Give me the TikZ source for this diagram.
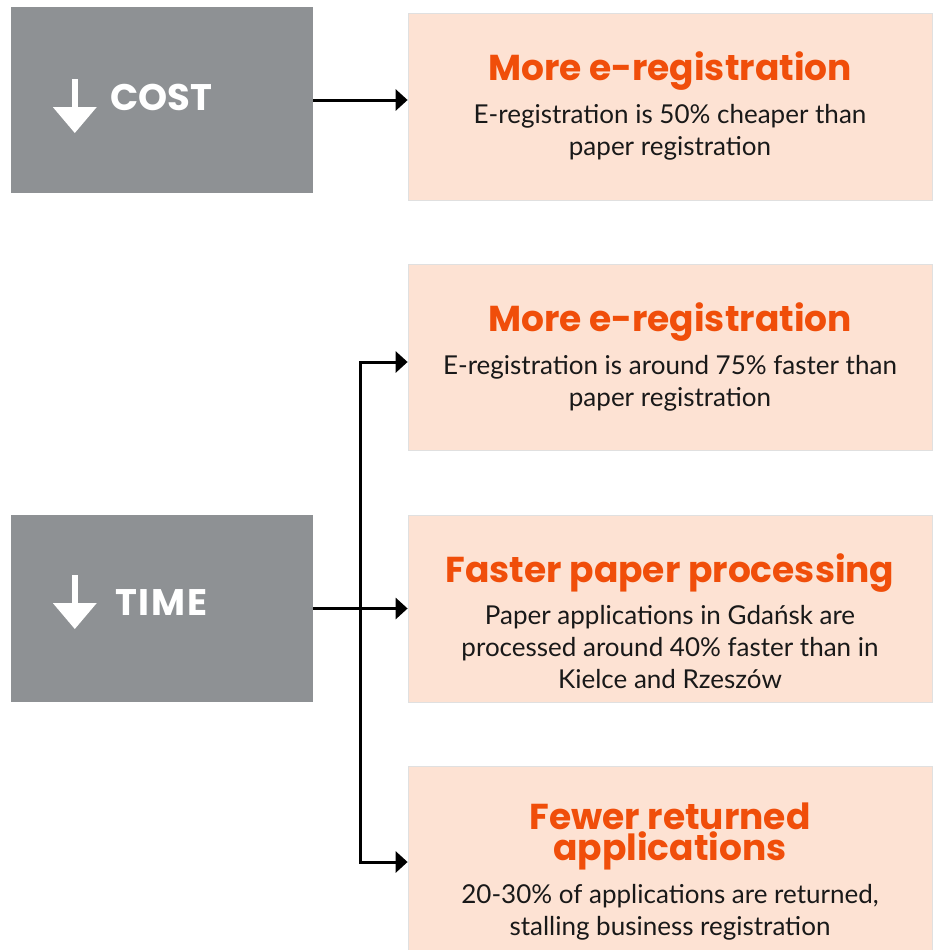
\documentclass[tikz,border=0pt]{standalone}
\usepackage{fontspec}
\setmainfont{Lato}
\newfontfamily\headfont{Poppins}
\usetikzlibrary{positioning,calc,arrows.meta}

\definecolor{slate}{HTML}{8E9194}
\definecolor{peach}{HTML}{FDE2D3}
\definecolor{rust}{HTML}{F04E0A}

\begin{document}
\begin{tikzpicture}[x=1pt,y=1pt,
	factor/.style={fill=slate,minimum width=302pt,minimum height=186pt,inner sep=0},
	effect/.style={fill=peach,draw=black!12,line width=.8pt,minimum width=524pt,minimum height=187pt,inner sep=0},
	head/.style={font=\headfont\bfseries\fontsize{36}{30}\selectfont,text=rust,align=center,inner sep=0},
	note/.style={font=\fontsize{26}{32}\selectfont,align=center,inner sep=0,text=black!90},
	tag/.style={font=\headfont\bfseries\fontsize{37}{37}\selectfont,text=white,inner sep=0,anchor=base west},
	link/.style={line width=3pt,-{Triangle[length=12pt,width=21pt]}}]
	\tikzset{drop/.pic={\fill[white] (-3.3,0) rectangle (3.3,-29);
		\fill[white] (-22,-28) -- (22,-28) -- (0,-54) -- cycle;}}
	\useasboundingbox (0,0) rectangle (932,-950);
	% left: what goes down
	\node[factor] (cost) at (162,-100) {};
	\node[factor,minimum height=187pt] (time) at (162,-608.5) {};
	\pic at ($(cost.west)+(64,21)$) {drop};
	\node[tag] (costtag) at ($(cost.west)+(99,-10)$) {COST};
	\pic at ($(time.west)+(64,33.5)$) {drop};
	\node[tag] (timetag) at ($(time.west)+(104,-6.5)$) {T\kern2ptI\kern2ptM\kern2ptE};
	% right: the effects
	\node[effect] (e1) at (670,-106.5) {};
	\node[effect,minimum height=186pt] (e2) at (670,-357) {};
	\node[effect] (e3) at (670,-608.5) {};
	\node[effect] (e4) at (670,-859.5) {};
	\node[head,below=39pt of e1.north] (h1) {More e-registration};
	\node[note,below=13pt of h1] (n1) {E-registration is 50\% cheaper than\\paper registration};
	\node[head,below=39pt of e2.north] (h2) {More e-registration};
	\node[note,below=13pt of h2] (n2) {E-registration is around 75\% faster than\\paper registration};
	\node[head,below=39pt of e3.north] (h3) {Faster paper processing};
	\node[note,below=12pt of h3] (n3) {Paper applications in Gdańsk are\\processed around 40\% faster than in\\Kielce and Rzeszów};
	\node[head,below=37pt of e4.north] (h4) {Fewer returned\\[1pt]applications};
	\node[note,below=14pt of h4] (n4) {20-30\% of applications are returned,\\stalling business registration};
	% connectors
	\coordinate (fork) at ($(time.east)!.5!(e3.west)$);
	\draw[link] (cost.east) -- (cost.east -| e1.west);
	\draw[link] (time.east) -- (e3.west);
	\draw[link] (fork) |- ([yshift=-5pt]e2.west);
	\draw[link] (fork) |- ([yshift=-2.5pt]e4.west);
\end{tikzpicture}
\end{document}
